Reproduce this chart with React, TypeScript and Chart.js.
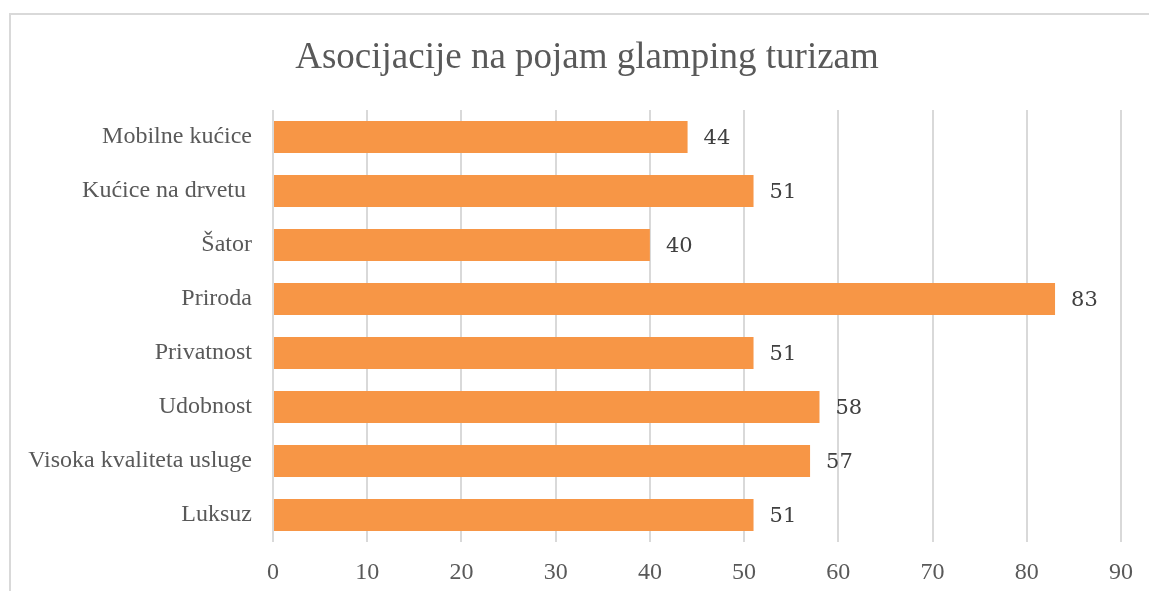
import React, { useEffect, useRef } from "react";
import { Chart, registerables } from "chart.js";

Chart.register(...registerables);

const categories = [
  "Mobilne kućice",
  "Kućice na drvetu ",
  "Šator",
  "Priroda",
  "Privatnost",
  "Udobnost",
  "Visoka kvaliteta usluge",
  "Luksuz",
];
const values = [44, 51, 40, 83, 51, 58, 57, 51];
const titleText = "Asocijacije na pojam glamping turizam";
const xMin = 0;
const xMax = 90;
const xStep = 10;

const valueLabels = {
  id: "valueLabels",
  afterDatasetsDraw(chart: any) {
    const ctx = chart.ctx;
    const meta = chart.getDatasetMeta(0);
    ctx.save();
    ctx.font = '21px "DejaVu Serif"';
    ctx.fillStyle = "#404040";
    ctx.textAlign = "left";
    ctx.textBaseline = "middle";
    meta.data.forEach((bar: any, i: number) => {
      ctx.fillText(String(values[i]), bar.x + 16, bar.y + 2);
    });
    ctx.restore();
  },
};

const titleDraw = {
  id: "titleDraw",
  afterDraw(chart: any) {
    const ctx = chart.ctx;
    ctx.save();
    ctx.font = '37px "Liberation Serif"';
    ctx.fillStyle = "#595959";
    ctx.textAlign = "center";
    ctx.textBaseline = "middle";
    ctx.fillText(titleText, 587, 58);
    ctx.restore();
  },
};

export default function App() {
  const ref = useRef<HTMLCanvasElement>(null);
  useEffect(() => {
    if (!ref.current) return;
    const chart = new Chart(ref.current, {
      type: "bar",
      data: {
        labels: categories,
        datasets: [
          {
            data: values,
            backgroundColor: "#f79646",
            borderWidth: 0,
            barPercentage: 0.59,
            categoryPercentage: 1,
          },
        ],
      },
      options: {
        indexAxis: "y",
        animation: false,
        responsive: false,
        maintainAspectRatio: false,
        layout: { padding: { left: 0, right: 28, top: 110, bottom: 0 } },
        plugins: {
          legend: { display: false },
          tooltip: { enabled: false },
          title: { display: false },
        },
        scales: {
          x: {
            min: xMin,
            max: xMax,
            ticks: {
              stepSize: xStep,
              color: "#595959",
              font: { family: '"Liberation Serif"', size: 24 },
              padding: 16,
            },
            grid: { color: "#d9d9d9", lineWidth: 2, drawTicks: false },
            border: { display: false },
            afterFit(scale: any) {
              scale.height = 49;
            },
          },
          y: {
            ticks: {
              color: "#595959",
              font: { family: '"Liberation Serif"', size: 24 },
              padding: 21,
            },
            grid: { display: false, drawTicks: false },
            border: { display: false },
            afterFit(scale: any) {
              scale.width = 273;
            },
          },
        },
      },
      plugins: [valueLabels, titleDraw],
    });
    return () => chart.destroy();
  }, []);
  return (
    <div style={{ position: "fixed", left: 0, top: 0, width: 1149, height: 591, overflow: "hidden", background: "#fff" }}>
      <div
        style={{
          position: "absolute",
          left: 9,
          top: 13,
          width: 1200,
          height: 700,
          border: "2px solid #d9d9d9",
        }}
      />
      <canvas ref={ref} width={1149} height={591} style={{ position: "absolute", left: 0, top: 0 }} />
    </div>
  );
}
